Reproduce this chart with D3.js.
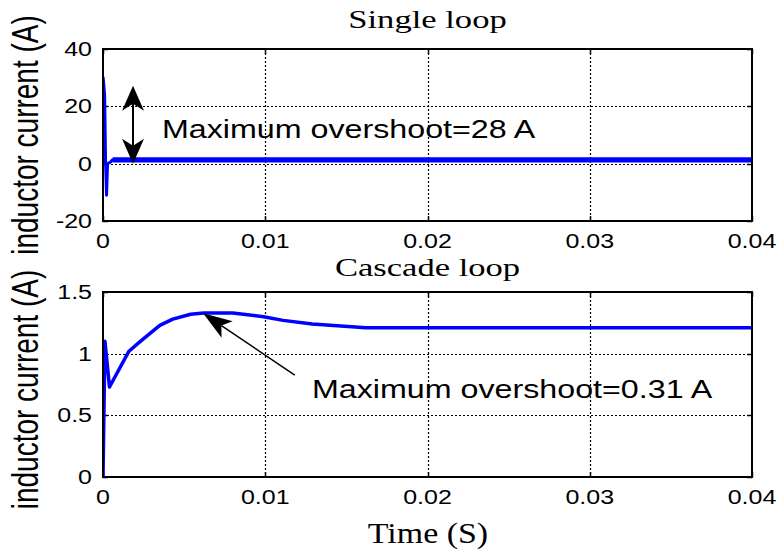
<!DOCTYPE html>
<html>
<head>
<meta charset="utf-8">
<script src="https://cdn.jsdelivr.net/npm/d3@7"></script>
<style>
  body { margin: 0; background: #fff; }
</style>
</head>
<body>
<div id="chart"></div>
<script>
// values
const timeTicks = [0, 0.01, 0.02, 0.03, 0.04];
const singleTicks = [-20, 0, 20, 40];
const cascadeTicks = [0, 0.5, 1, 1.5];

const singleTime    = [0, 0.00001, 0.0001, 0.00016, 0.00022, 0.00028, 0.00045, 0.0006, 0.001, 0.002, 0.01, 0.02, 0.03, 0.04];
const singleCurrent = [0, 30, 24, 0, -11, 0, 0.5, 1.4, 1.3, 1.4, 1.3, 1.4, 1.3, 1.3];
// ripple band of the steady state (single loop)
const singleBandTime = [0.0006, 0.04];
const singleBandLow  = [0.4, 0.4];
const singleBandHigh = [2.2, 2.2];

const cascadeTime    = [0, 0.00012, 0.0004, 0.0016, 0.0023, 0.0035, 0.0043, 0.0054, 0.0062, 0.008, 0.0099, 0.0111, 0.0129, 0.0162, 0.04];
const cascadeCurrent = [0, 1.10, 0.73, 1.02, 1.10, 1.23, 1.28, 1.32, 1.33, 1.33, 1.30, 1.27, 1.24, 1.21, 1.21];

const W = 780, H = 550;
const sans = "'Liberation Sans', Arial, sans-serif";
const serif = "'Liberation Serif', 'Times New Roman', serif";
const blue = "#0000ff";

const svg = d3.select("#chart")
  .append("svg")
  .attr("width", W)
  .attr("height", H);

// text helper: the reference is stretched sideways, so scale glyphs
function label(g, x, y, txt, o) {
  const t = g.append("text")
    .attr("transform", `translate(${x},${y})` + (o.rotate ? ` rotate(${o.rotate})` : "") + ` scale(${o.sx || 1},${o.sy || 1})`)
    .attr("text-anchor", o.anchor || "middle")
    .style("font-family", o.family || sans)
    .style("font-size", o.size + "px")
    .attr("fill", "#000")
    .text(txt);
  return t;
}

function arrowHead(g, tip, tail, len, half, notch) {
  const dx = tail[0] - tip[0], dy = tail[1] - tip[1];
  const d = Math.hypot(dx, dy), ux = dx / d, uy = dy / d;
  const px = -uy, py = ux;
  const bx = tip[0] + ux * len, by = tip[1] + uy * len;
  const nx = tip[0] + ux * (len - notch), ny = tip[1] + uy * (len - notch);
  g.append("path")
    .attr("d", `M${tip[0]},${tip[1]} L${bx + px * half},${by + py * half} L${nx},${ny} L${bx - px * half},${by - py * half} Z`)
    .attr("fill", "#000");
}

const crisp = v => Math.round(v) + 0.5;

function panel(cfg) {
  const g = svg.append("g");
  const x = d3.scaleLinear().domain([0, 0.04]).range([cfg.left, cfg.right]);
  const y = d3.scaleLinear().domain(d3.extent(cfg.yTicks)).range([cfg.bottom, cfg.top]);

  // dotted grid
  g.append("g").selectAll("line")
    .data(timeTicks.slice(1, -1))
    .join("line")
    .attr("x1", d => crisp(x(d))).attr("x2", d => crisp(x(d)))
    .attr("y1", cfg.top).attr("y2", cfg.bottom)
    .attr("stroke", "#000").attr("stroke-width", 1.2).attr("stroke-dasharray", "2,2");
  g.append("g").selectAll("line")
    .data(cfg.yTicks.slice(1, -1))
    .join("line")
    .attr("x1", cfg.left).attr("x2", cfg.right)
    .attr("y1", d => crisp(y(d))).attr("y2", d => crisp(y(d)))
    .attr("stroke", "#000").attr("stroke-width", 1.2).attr("stroke-dasharray", "2,2");

  // inward ticks on all sides
  const tk = 5;
  timeTicks.forEach(d => {
    g.append("line").attr("x1", crisp(x(d))).attr("x2", crisp(x(d))).attr("y1", cfg.bottom).attr("y2", cfg.bottom - tk).attr("stroke", "#000").attr("stroke-width", 1.5);
    g.append("line").attr("x1", crisp(x(d))).attr("x2", crisp(x(d))).attr("y1", cfg.top).attr("y2", cfg.top + tk).attr("stroke", "#000").attr("stroke-width", 1.5);
  });
  cfg.yTicks.forEach(d => {
    g.append("line").attr("x1", cfg.left).attr("x2", cfg.left + tk).attr("y1", crisp(y(d))).attr("y2", crisp(y(d))).attr("stroke", "#000").attr("stroke-width", 1.5);
    g.append("line").attr("x1", cfg.right).attr("x2", cfg.right - tk).attr("y1", crisp(y(d))).attr("y2", crisp(y(d))).attr("stroke", "#000").attr("stroke-width", 1.5);
  });

  // tick labels
  timeTicks.forEach(d => label(g, x(d), cfg.bottom + 27, String(d), { size: 20, sx: 1.25 }));
  cfg.yTicks.forEach(d => label(g, cfg.left - 11, y(d) + 7, String(d), { size: 20, sx: 1.25, anchor: "end" }));

  // titles
  label(g, (cfg.left + cfg.right) / 2, cfg.top - cfg.titleGap, cfg.title, { size: 26, sx: 1.33, family: serif });
  label(g, 38, (cfg.top + cfg.bottom) / 2 + cfg.ylabShift, "inductor current (A)", { size: 28, rotate: -90, sy: 1.3 });

  const clipId = "clip" + cfg.id;
  g.append("clipPath").attr("id", clipId)
    .append("rect").attr("x", cfg.left).attr("y", cfg.top - 2).attr("width", cfg.right - cfg.left).attr("height", cfg.bottom - cfg.top + 4);
  const plot = g.append("g").attr("clip-path", `url(#${clipId})`);

  if (cfg.band) {
    const bandData = cfg.band.t.map((t, i) => ({ t, lo: cfg.band.lo[i], hi: cfg.band.hi[i] }));
    plot.append("path")
      .datum(bandData)
      .attr("fill", blue)
      .attr("d", d3.area().x(d => x(d.t)).y0(d => y(d.lo)).y1(d => y(d.hi)));
  }

  const lineData = cfg.time.map((t, i) => ({ t, v: cfg.values[i] }));
  plot.append("path")
    .datum(lineData)
    .attr("fill", "none")
    .attr("stroke", blue)
    .attr("stroke-width", cfg.lineWidth)
    .attr("stroke-linejoin", "round")
    .attr("d", d3.line().x(d => x(d.t)).y(d => y(d.v)));

  // frame
  g.append("rect")
    .attr("x", cfg.left).attr("y", cfg.top)
    .attr("width", cfg.right - cfg.left).attr("height", cfg.bottom - cfg.top)
    .attr("fill", "none").attr("stroke", "#000").attr("stroke-width", 2);

  return { g, x, y };
}

const topPanel = panel({
  id: 1, title: "Single loop", left: 103, right: 752, top: 49, bottom: 221, titleGap: 21,
  yTicks: singleTicks, time: singleTime, values: singleCurrent, lineWidth: 3, ylabShift: 0,
  band: { t: singleBandTime, lo: singleBandLow, hi: singleBandHigh }
});

const bottomPanel = panel({
  id: 2, title: "Cascade loop", left: 103, right: 752, top: 292, bottom: 477, titleGap: 16,
  yTicks: cascadeTicks, time: cascadeTime, values: cascadeCurrent, lineWidth: 3.5, ylabShift: 5
});

// annotation: double arrow for the single loop overshoot
{
  const { g, x, y } = topPanel;
  const ax = x(0.00185), y0 = y(0), y1 = y(27.2);
  g.append("line").attr("x1", ax).attr("x2", ax).attr("y1", y0 - 10).attr("y2", y1 + 10)
    .attr("stroke", "#000").attr("stroke-width", 2);
  arrowHead(g, [ax, y1], [ax, y0], 25, 11, 7);
  arrowHead(g, [ax, y0], [ax, y1], 25, 11, 7);
  label(g, 162, 138, "Maximum overshoot=28 A", { size: 26, sx: 1.24, anchor: "start" });
}

// annotation: arrow for the cascade loop overshoot
{
  const { g, x, y } = bottomPanel;
  const tip = [x(0.00617), y(1.327)], tail = [x(0.01182), y(0.827)];
  g.append("line").attr("x1", tail[0]).attr("y1", tail[1]).attr("x2", tip[0] + (tail[0] - tip[0]) * 0.2).attr("y2", tip[1] + (tail[1] - tip[1]) * 0.2)
    .attr("stroke", "#000").attr("stroke-width", 1.5);
  arrowHead(g, tip, tail, 29, 10, 7);
  label(g, 312, 398, "Maximum overshoot=0.31 A", { size: 26, sx: 1.24, anchor: "start" });
}

label(svg, 428, 543, "Time (S)", { size: 29, sx: 1.17, family: serif });
</script>
</body>
</html>
